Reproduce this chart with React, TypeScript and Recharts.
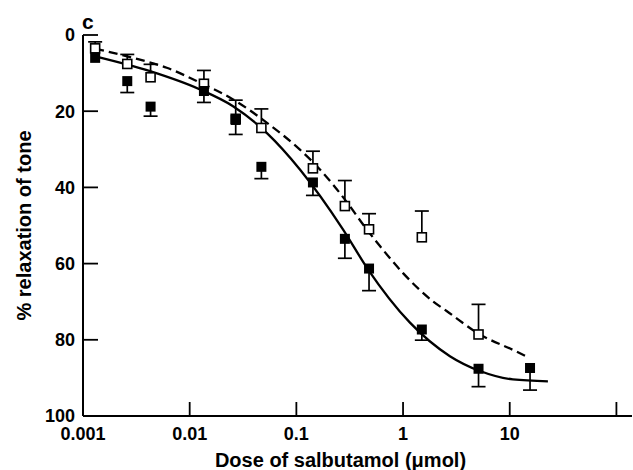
import { ComposedChart, ErrorBar, Line, Scatter, XAxis, YAxis } from "recharts";

// doses (µmol)
const doses = [0.0013, 0.0026, 0.0043, 0.0136, 0.027, 0.047, 0.143, 0.285, 0.48, 1.5, 5.1, 15.5];

// filled squares: mean and the end of the (downward) error bar
const filledPct = [6.0, 12.1, 18.8, 14.7, 22.3, 34.6, 38.7, 53.5, 61.3, 77.3, 87.6, 87.4];
const filledErrEnd = [null, 15.1, 21.3, 17.7, 26.1, 37.7, 42.1, 58.6, 67.1, 80.1, 92.3, 93.2];

// open squares: mean and the end of the (upward) error bar
const openPct = [3.5, 7.6, 11.1, 12.8, 22.0, 24.4, 35.0, 44.9, 51.0, 53.1, 78.6, null];
const openErrEnd = [1.8, 5.1, 7.7, 9.3, 17.1, 19.4, 30.5, 38.2, 46.9, 46.2, 70.7, null];

// fitted curves
const solidDose = [0.0013, 0.00425, 0.0125, 0.0255, 0.0527, 0.108, 0.2733, 0.469, 1.161, 2.75, 5.26, 10.7, 22.8];
const solidPct = [5.6, 9.5, 14.3, 18.7, 25.7, 35.3, 51.0, 61.5, 75.5, 84.3, 88.2, 90.4, 90.9];
const dashedDose = [0.0013, 0.00294, 0.00609, 0.0125, 0.0255, 0.0527, 0.108, 0.1664, 0.2854, 0.456, 0.6073, 1.0, 1.906, 2.579, 5.035, 11.6, 14.81];
const dashedPct = [3.6, 6.0, 8.6, 12.5, 16.9, 23.0, 30.1, 35.3, 43.2, 51.0, 55.4, 62.5, 69.9, 72.5, 78.3, 83.1, 84.6];

const doseTicks = [0.001, 0.01, 0.1, 1, 10, 100];
const pctTicks = [0, 20, 40, 60, 80, 100];

const FONT = "'Liberation Sans', Arial, Helvetica, sans-serif";

const solidData = solidDose.map((dose, i) => ({ dose, pct: solidPct[i] }));
const dashedData = dashedDose.map((dose, i) => ({ dose, pct: dashedPct[i] }));

const filledData = doses
  .map((dose, i) => ({
    dose,
    pct: filledPct[i],
    err: [0, filledErrEnd[i] == null ? 0 : (filledErrEnd[i] as number) - filledPct[i]],
  }))
  .filter((d) => d.pct != null);
const filledCaps = doses
  .map((dose, i) => ({ dose, pct: filledErrEnd[i] }))
  .filter((d) => d.pct != null);

const openData = doses
  .map((dose, i) => ({
    dose,
    pct: openPct[i],
    err: [openErrEnd[i] == null ? 0 : (openPct[i] as number) - (openErrEnd[i] as number), 0],
  }))
  .filter((d) => d.pct != null);
const openCaps = doses
  .map((dose, i) => ({ dose, pct: openErrEnd[i] }))
  .filter((d) => d.pct != null);

const FilledSquare = (p: any) => (
  <rect x={p.cx - 5} y={p.cy - 5} width={10} height={10} fill="#000" />
);
const OpenSquare = (p: any) => (
  <rect x={p.cx - 4.5} y={p.cy - 4.5} width={9} height={9} fill="#fff" stroke="#000" strokeWidth={1.6} />
);
const Cap = (p: any) => (
  <line x1={p.cx - 7} x2={p.cx + 7} y1={p.cy} y2={p.cy} stroke="#000" strokeWidth={1.7} />
);

const tickStyle = { fontSize: 18, fontWeight: 700, fill: "#000", fontFamily: FONT };

export default function App() {
  return (
    <div style={{ position: "absolute", left: 0, top: 0, width: 633, height: 470, background: "#fff" }}>
      <div
        style={{
          position: "absolute",
          left: 82,
          top: 12,
          fontFamily: FONT,
          fontWeight: 700,
          fontSize: 21,
          lineHeight: "20px",
        }}
      >
        c
      </div>
      <ComposedChart
        width={633}
        height={470}
        margin={{ top: 35, right: 1, bottom: 0, left: 0 }}
        style={{ fontFamily: FONT }}
      >
        <XAxis
          dataKey="dose"
          type="number"
          scale="log"
          domain={[0.001, 140]}
          allowDataOverflow
          ticks={doseTicks}
          interval={0}
          tickFormatter={(v: number) => (v === 100 ? "" : String(v))}
          tick={tickStyle}
          tickSize={-14}
          tickMargin={25}
          height={54}
          axisLine={{ stroke: "#000", strokeWidth: 2 }}
          tickLine={{ stroke: "#000", strokeWidth: 1.8 }}
          label={{
            value: "Dose of salbutamol (\u03bcmol)",
            position: "insideBottom",
            offset: 3,
            dx: -17,
            style: { fontSize: 20, fontWeight: 700, fill: "#000", fontFamily: FONT },
          }}
        />
        <YAxis
          dataKey="pct"
          type="number"
          domain={[0, 100]}
          reversed
          ticks={pctTicks}
          interval={0}
          tick={tickStyle}
          tickSize={-15}
          tickMargin={23}
          width={83}
          axisLine={{ stroke: "#000", strokeWidth: 2 }}
          tickLine={{ stroke: "#000", strokeWidth: 1.8 }}
          label={{
            value: "% relaxation of tone",
            angle: -90,
            position: "insideLeft",
            offset: 24,
            style: { textAnchor: "middle", fontSize: 20, fontWeight: 700, fill: "#000", fontFamily: FONT },
          }}
        />
        <Line
          data={solidData}
          dataKey="pct"
          type="monotone"
          stroke="#000"
          strokeWidth={2.3}
          dot={false}
          isAnimationActive={false}
        />
        <Line
          data={dashedData}
          dataKey="pct"
          type="monotone"
          stroke="#000"
          strokeWidth={2.3}
          strokeDasharray="9 5"
          dot={false}
          isAnimationActive={false}
        />
        <Scatter data={openCaps} dataKey="pct" shape={Cap} isAnimationActive={false} />
        <Scatter data={openData} dataKey="pct" shape={OpenSquare} isAnimationActive={false}>
          <ErrorBar dataKey="err" direction="y" width={0} stroke="#000" strokeWidth={1.7} isAnimationActive={false} />
        </Scatter>
        <Scatter data={filledCaps} dataKey="pct" shape={Cap} isAnimationActive={false} />
        <Scatter data={filledData} dataKey="pct" shape={FilledSquare} isAnimationActive={false}>
          <ErrorBar dataKey="err" direction="y" width={0} stroke="#000" strokeWidth={1.7} isAnimationActive={false} />
        </Scatter>
      </ComposedChart>
    </div>
  );
}
